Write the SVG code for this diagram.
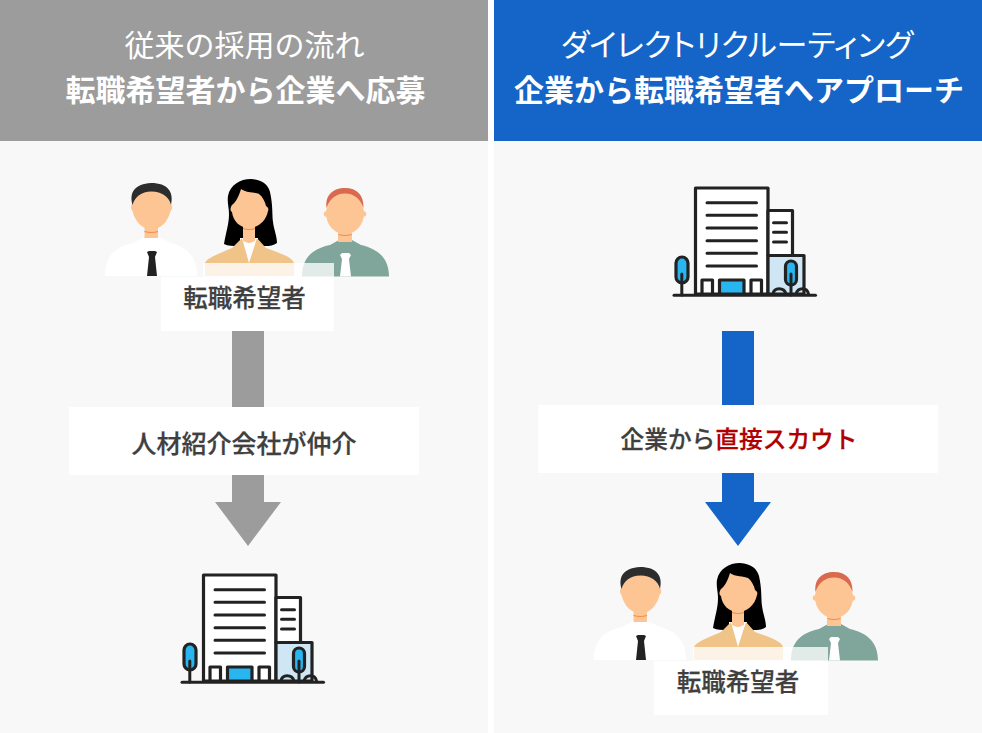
<svg xmlns="http://www.w3.org/2000/svg" width="982" height="733" viewBox="0 0 982 733">
<style>
text{font-family:"Noto Sans CJK JP","Noto Sans CJK SC",sans-serif;text-anchor:middle}
.h1{fill:#fff;font-size:30px;font-weight:400}
.h2{fill:#fff;font-size:30px;font-weight:700}
.lb{fill:#3f3f3f;font-size:24.500px;font-weight:500;stroke:#3f3f3f;stroke-width:.25}
.ln{stroke:#222;stroke-width:3;fill:none;stroke-linecap:round}
.ol{stroke:#222;stroke-width:3.200;stroke-linejoin:round}
.skin{fill:#fdc594}
.neck{fill:none;stroke:#f08c50;stroke-width:1.200}
</style>
<defs>
<g id="people">
<path fill="#fff" d="M105 276C105 256 115 247 133 243L146 236H157L171 243C188 247 197 258 197 276Z"/>
<path fill="#222" d="M147 252L149 251H155L157 252L155 257L157 276H147L149 257Z"/>
<rect class="skin" x="144.500" y="226" width="13.500" height="12"/>
<path class="neck" d="M144.500 231.500Q151.500 233.500 158 231.500"/>
<path class="skin" d="M132.500 204C136 195 142 191 151.500 191C161 191 167 195 170.500 204C172.500 205 173 209 170.500 211C168 222 160 229.500 151.500 229.500C143 229.500 135 222 132.500 211C130.500 209 130.500 205 132.500 204Z"/>
<path fill="#2d2d2d" d="M132.500 205C129 192 135 184 151 183C168 183 174 192 171 205C169 197 162 191.500 151.500 191.500C141 191.500 135 197 132.500 205Z"/>

<path fill="#000" d="M228 196C230 185 240 179 251 179C263 180 268 185 270 192C273 205 272 215 273 222C274 230 277 236 277 243C272 247 265 246 259 246H238C233 246 228 246 224 244C226 232 229 224 229 214C229 208 227 202 228 196Z"/>
<path fill="#fff" d="M240 238H258V276H240Z"/>
<path fill="#f0c389" d="M205 263C207 258 216 255 232 248L242 238L249 263L257 238L266 248C282 254 292 257 294 263V276H205Z"/>
<path class="skin" d="M243 226H255V241L250 243L248 243L243 241Z"/>
<path class="neck" d="M243 228.500Q249 230.500 255 228.500"/>
<path class="skin" d="M241 189C246 193 255 192 259 194C263 197 265 202 266 206C268 207 269 209 268 211C266 221 258 228 249 228C240 228 233 221 232 212C230 211 230 208 232 205C236 202 239 196 241 189Z"/>

<path fill="#80a59a" d="M302 276.500C302 258 312 249 330 245L339 240H352L361 245C378 249 389 258 389 276.500Z"/>
<path fill="#fff" d="M340 255L342 253H349L351 255L349 259L351 276.500H340L342 259Z"/>
<rect class="skin" x="338" y="232" width="14" height="10"/>
<path class="neck" d="M338.500 234.500Q345 236.500 351.500 234.500"/>
<ellipse class="skin" cx="345" cy="213.500" rx="19" ry="20.500"/>
<circle class="skin" cx="326.500" cy="214" r="2.800"/><circle class="skin" cx="363.500" cy="214" r="2.800"/>
<path fill="#d96a50" d="M326.500 208C325 195 333 188 345 188C357 188 364 195 363.500 208C360 198 353 193.500 345 193.500C337 193.500 330 198 326.500 208Z"/>
</g>
<g id="building">
<rect class="ol" fill="#fff" x="695.500" y="188" width="72.500" height="106"/>
<rect class="ol" fill="#fff" x="768" y="210.500" width="24.500" height="45"/>
<rect class="ol" fill="#cfe6f5" x="768" y="255.500" width="36" height="38.500"/>
<path class="ln" d="M707 202.700H756.500M707 215.300H756.500M707 228H756.500M707 240.700H756.500M707 253.300H756.500M707 266H756.500M773.500 222.700H786.500M773.500 232.300H786.500M773.500 242H786.500"/>
<rect class="ol" fill="#fff" x="702" y="280" width="10.500" height="14"/>
<rect class="ol" fill="#fff" x="751" y="280" width="10.500" height="14"/>
<rect class="ol" fill="#29b6f0" x="719.500" y="280" width="24.500" height="14"/>
<rect class="ol" fill="#29b6f0" x="676" y="257" width="12" height="26" rx="6"/>
<rect class="ol" fill="#29b6f0" x="785.500" y="261" width="11" height="24" rx="5.500"/>
<path class="ln" d="M681.800 274V295M791 274V295M773 294C774 287 784 287 786 294M796 294C798 287 807 287 808.500 294"/>
<path class="ln" d="M674 295.300H815.500"/>
</g>
</defs>

<rect width="982" height="733" fill="#fff"/>
<rect x="0" y="141" width="488" height="592" fill="#f8f8f8"/>
<rect x="494" y="141" width="488" height="592" fill="#f8f8f8"/>

<g id="header-left">
<rect width="488" height="141" fill="#9c9c9c"/>
<text class="h1" x="244.500" y="56">従来の採用の流れ</text>
<text class="h2" x="245.500" y="101">転職希望者から企業へ応募</text>
</g>
<g id="header-right">
<rect x="494" width="488" height="141" fill="#1565c8"/>
<text class="h1" x="737" y="56" style="font-size:31px;font-feature-settings:'palt'">ダイレクトリクルーティング</text>
<text class="h2" x="739" y="101">企業から転職希望者へアプローチ</text>
</g>

<g id="connectors">
<path fill="#9c9c9c" d="M232 331H264V502H281L248 546L215 502H232Z"/>
<path fill="#1565c8" d="M722 331H754V502H771L738 546L705 502H722Z"/>
</g>

<g id="seekers-left">
<use href="#people"/>
<rect x="203" y="263" width="131" height="14" fill="#fff" fill-opacity=".78"/>
<rect x="161" y="277" width="173" height="54" fill="#fff"/>
<text class="lb" x="244.500" y="307">転職希望者</text>
</g>
<g id="agency-label">
<rect x="69" y="407" width="350" height="68" fill="#fff"/>
<text class="lb" x="244" y="453" style="font-size:25px">人材紹介会社が仲介</text>
</g>
<g id="company-left"><use href="#building" x="-492" y="387"/></g>

<g id="company-right"><use href="#building"/></g>
<g id="scout-label">
<rect x="538" y="405" width="400" height="68" fill="#fff"/>
<text class="lb" x="739" y="448" style="font-size:23.700px">企業から<tspan fill="#b00000" stroke="#b00000">直接スカウト</tspan></text>
</g>
<g id="seekers-right">
<use href="#people" x="489" y="384"/>
<rect x="693" y="647" width="135" height="14" fill="#fff" fill-opacity=".78"/>
<rect x="654" y="661" width="174" height="54" fill="#fff"/>
<text class="lb" x="738" y="691">転職希望者</text>
</g>
</svg>
